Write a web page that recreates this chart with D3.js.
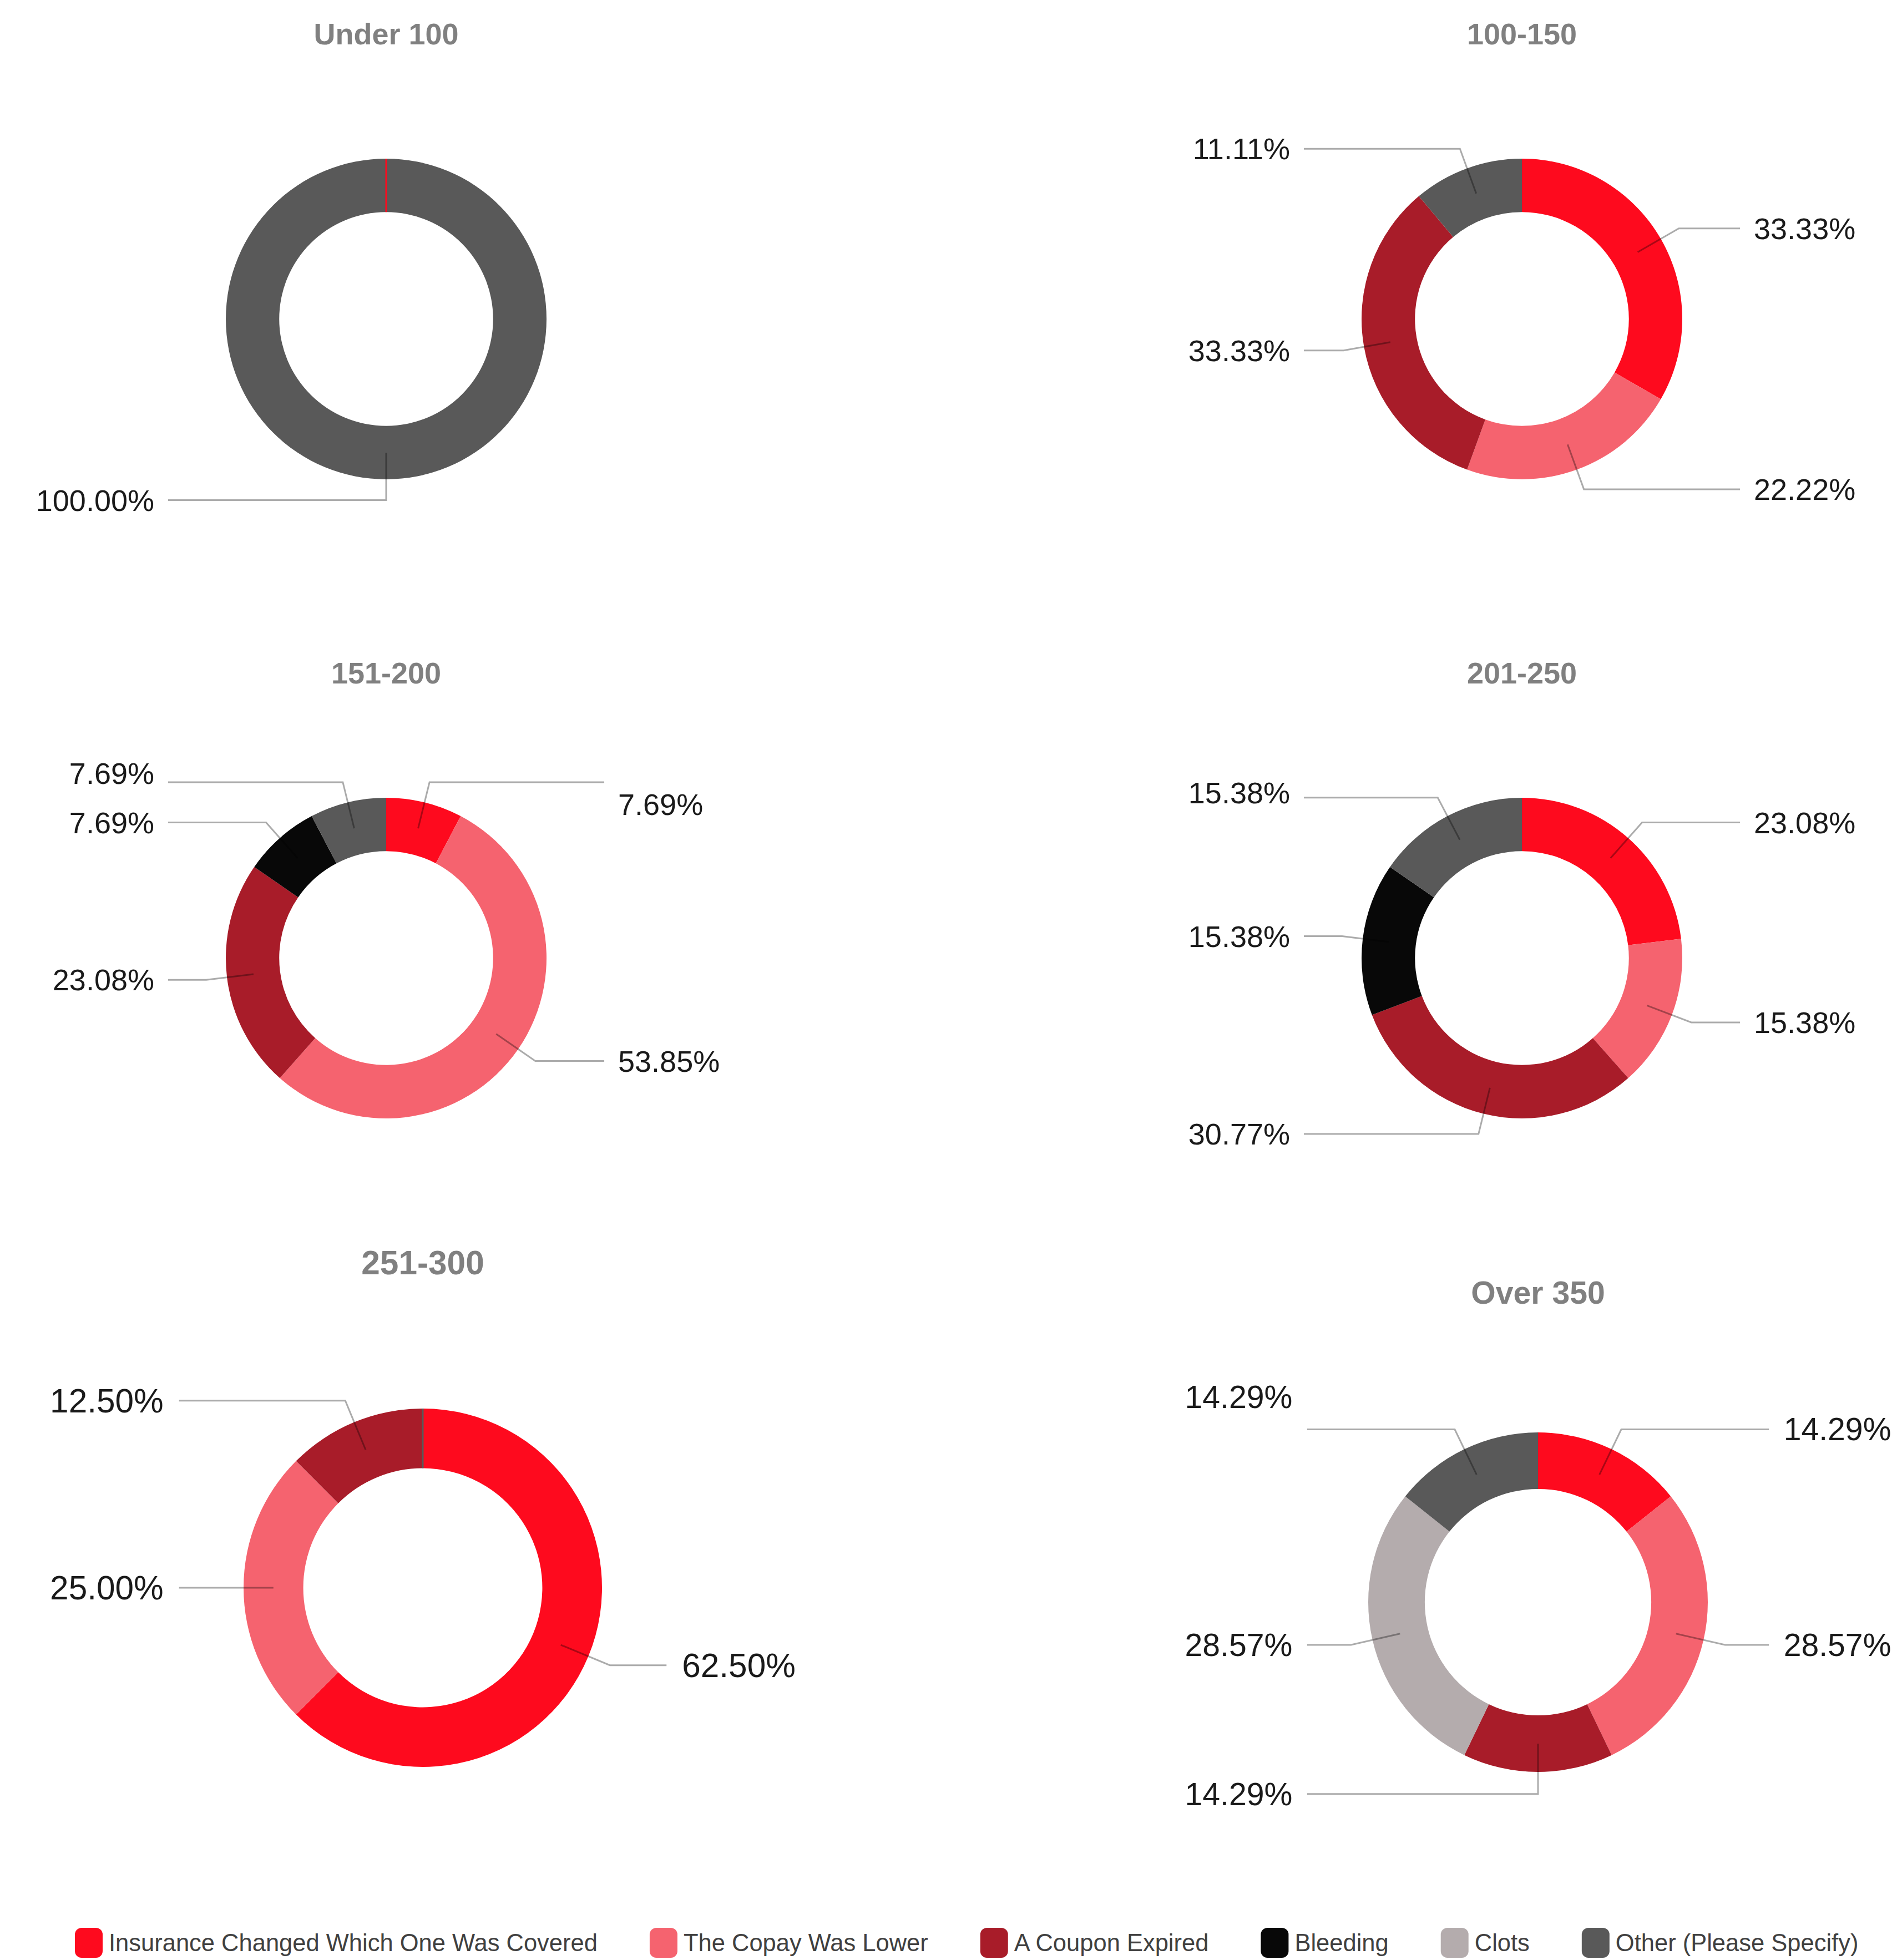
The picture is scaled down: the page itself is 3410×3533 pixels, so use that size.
<!DOCTYPE html>
<html>
<head>
<meta charset="utf-8">
<script src="https://cdn.jsdelivr.net/npm/d3@7"></script>
<style>
  html, body { margin: 0; padding: 0; background: #fff; }
  svg { display: block; }
</style>
</head>
<body>
<div id="root"></div>
<script>
// categories, shared by every donut
const categories = [
  "Insurance Changed Which One Was Covered",
  "The Copay Was Lower",
  "A Coupon Expired",
  "Bleeding",
  "Clots",
  "Other (Please Specify)",
];
const colors = ["#fe0a1e", "#f5636f", "#a81c29", "#080808", "#b4acad", "#595959"];

const groups = ["Under 100", "100-150", "151-200", "201-250", "251-300", "Over 350"];

// percent per category; null = not in that group
const under100 = [0, null, null, null, null, 100];
const r100to150 = [33.33, 22.22, 33.33, null, null, 11.11];
const r151to200 = [7.69, 53.85, 23.08, 7.69, null, 7.69];
const r201to250 = [23.08, 15.38, 30.77, 15.38, null, 15.38];
const r251to300 = [62.5, 25.0, 12.5, null, null, 0];
const over350 = [14.29, 28.57, 14.29, null, 28.57, 14.29];

const series = [under100, r100to150, r151to200, r201to250, r251to300, over350];

const W = 3410;
const H = 3533;

// panel layout (centre, outer radius, title line)
const panels = [
  { cx: 696, cy: 575, R: 289, ty: 61 },
  { cx: 2743, cy: 575, R: 289, ty: 61 },
  { cx: 696, cy: 1727, R: 289, ty: 1213 },
  { cx: 2743, cy: 1727, R: 289, ty: 1213 },
  { cx: 762, cy: 2862, R: 323, ty: 2276 },
  { cx: 2772, cy: 2888, R: 306, ty: 2330 },
];
const holeRatio = 0.667;
const baseFont = 54;

// small vertical shifts of some label texts, like the original layout
const textNudge = {
  2: { 0: 40, 5: -16 },
  3: { 5: -9 },
  5: { 5: -58 },
};

const fmt = (v) => v.toFixed(2) + "%";

const svg = d3
  .select("#root")
  .append("svg")
  .attr("width", W)
  .attr("height", H)
  .attr("viewBox", `0 0 ${W} ${H}`)
  .attr("xmlns", "http://www.w3.org/2000/svg");

svg.append("rect").attr("width", W).attr("height", H).attr("fill", "#fff");

const pie = d3
  .pie()
  .sort(null)
  .value((d) => d.value);

groups.forEach((name, gi) => {
  const { cx, cy, R, ty } = panels[gi];
  const r = R * holeRatio;
  const k = R / 289;
  const entries = series[gi]
    .map((value, i) => ({ i, value }))
    .filter((d) => d.value !== null);
  const arcs = pie(entries);

  const g = svg.append("g").attr("transform", `translate(${cx},${cy})`);

  svg
    .append("text")
    .text(name)
    .attr("x", cx)
    .attr("y", ty)
    .attr("text-anchor", "middle")
    .attr("dominant-baseline", "central")
    .attr("font-family", "'Liberation Sans', Arial, sans-serif")
    .attr("font-weight", "bold")
    .attr("font-size", baseFont * k)
    .attr("fill", "#808080");

  const arc = d3.arc().innerRadius(r).outerRadius(R);

  // zero slices last, so their hairline stays on top
  const drawOrder = arcs
    .slice()
    .sort((a, b) => (a.data.value === 0) - (b.data.value === 0));

  g.selectAll("path.slice")
    .data(drawOrder)
    .join("path")
    .attr("class", "slice")
    .attr("d", arc)
    .attr("fill", (d) => colors[d.data.i])
    .attr("stroke", (d) => (d.data.value === 0 ? colors[d.data.i] : "none"))
    .attr("stroke-width", 3);

  const mid = (R + r) / 2;
  const elbowR = R * 1.13;
  const lineEnd = R * 1.36;

  arcs
    .filter((d) => d.data.value > 0)
    .forEach((d) => {
      const a = (d.startAngle + d.endAngle) / 2;
      const sx = Math.sin(a);
      const sy = -Math.cos(a);
      const right = sx > 1e-6;
      const p0 = [sx * mid, sy * mid];
      const p1 = [sx * elbowR, sy * elbowR];
      const p2 = [right ? lineEnd : -lineEnd, p1[1]];

      g.append("path")
        .attr("d", d3.line()([p0, p1, p2]))
        .attr("fill", "none")
        .attr("stroke", "rgba(0,0,0,0.33)")
        .attr("stroke-width", 3);

      const nudge = (textNudge[gi] && textNudge[gi][d.data.i]) || 0;
      g.append("text")
        .text(fmt(d.data.value))
        .attr("x", right ? p2[0] + 25 * k : p2[0] - 25 * k)
        .attr("y", p2[1] + nudge)
        .attr("text-anchor", right ? "start" : "end")
        .attr("dominant-baseline", "central")
        .attr("font-family", "'Liberation Sans', Arial, sans-serif")
        .attr("font-size", baseFont * k)
        .attr("fill", "#1a1a1a");
    });
});

// legend
const legend = svg.append("g").attr("transform", `translate(135, 3502)`);
let lx = 0;
categories.forEach((c, i) => {
  const item = legend.append("g").attr("transform", `translate(${lx},0)`);
  item
    .append("rect")
    .attr("x", 0)
    .attr("y", -27)
    .attr("width", 50)
    .attr("height", 54)
    .attr("rx", 12)
    .attr("fill", colors[i]);
  const t = item
    .append("text")
    .text(c)
    .attr("x", 61)
    .attr("y", 0)
    .attr("dominant-baseline", "central")
    .attr("font-family", "'Liberation Sans', Arial, sans-serif")
    .attr("font-size", 43.5)
    .attr("fill", "#404040");
  lx += 61 + t.node().getComputedTextLength() + 94;
});
</script>
</body>
</html>
